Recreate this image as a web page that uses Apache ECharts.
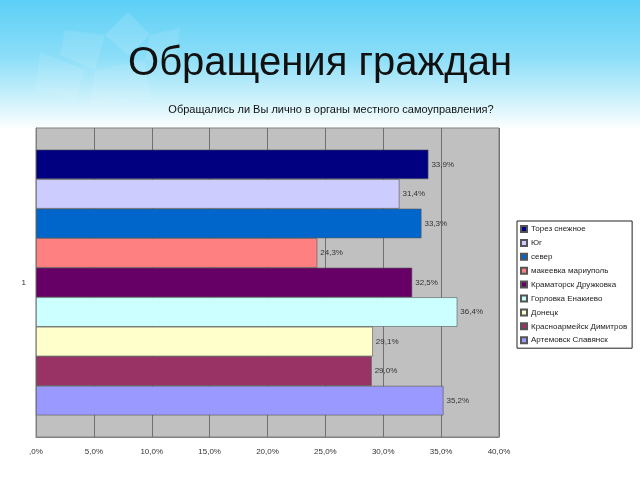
<!DOCTYPE html>
<html>
<head>
<meta charset="utf-8">
<script src="https://cdn.jsdelivr.net/npm/echarts@6/dist/echarts.min.js"></script>
<style>html,body{margin:0;padding:0;}#c{width:640px;height:480px;}</style>
</head>
<body>
<div id="c"></div>
<script>
var categories = ['1'];
var seriesNames = ['Торез снежное', 'Юг', 'север', 'макеевка мариуполь', 'Краматорск Дружковка', 'Горловка Енакиево', 'Донецк', 'Красноармейск Димитров', 'Артемовск Славянск'];
var seriesValues = [33.9, 31.4, 33.3, 24.3, 32.5, 36.4, 29.1, 29.0, 35.2];
var seriesColors = ['#000080', '#ccccff', '#0066cc', '#ff8080', '#660066', '#ccffff', '#ffffcc', '#993366', '#9999ff'];
var xTicks = [0, 5, 10, 15, 20, 25, 30, 35, 40];

function fmt(v) { return v === 0 ? ',0%' : v.toFixed(1).replace('.', ',') + '%'; }

var chart = echarts.init(document.getElementById('c'), null, {renderer: 'canvas'});
var series = seriesNames.map(function (n, i) {
  return {
    name: n, type: 'bar', data: [seriesValues[i]],
    barGap: '0%', barCategoryGap: '14%',
    itemStyle: {color: seriesColors[i], borderColor: '#555', borderWidth: 0.6},
    label: {show: true, position: 'right', distance: 3, fontSize: 8, color: '#333',
      fontFamily: 'Liberation Sans', formatter: function (p) { return fmt(p.value); }},
    emphasis: {disabled: true}
  };
});

var star = [];
star.push({type: 'polygon', z: -9, shape: {points: [[105,35],[128,12],[150,35],[128,55]]}, style: {fill: 'rgba(255,255,255,0.12)'}});
star.push({type: 'polygon', z: -9, shape: {points: [[65,30],[105,35],[95,70],[60,55]]}, style: {fill: 'rgba(255,255,255,0.10)'}});
star.push({type: 'polygon', z: -9, shape: {points: [[150,35],[180,28],[175,62],[145,60]]}, style: {fill: 'rgba(255,255,255,0.10)'}});
star.push({type: 'polygon', z: -9, shape: {points: [[40,52],[85,70],[75,100],[35,90]]}, style: {fill: 'rgba(255,255,255,0.09)'}});
star.push({type: 'polygon', z: -9, shape: {points: [[95,70],[145,60],[150,100],[90,105]]}, style: {fill: 'rgba(255,255,255,0.09)'}});

chart.setOption({
  animation: false,
  graphic: [{
    type: 'rect', z: -10, shape: {x: 0, y: 0, width: 640, height: 480},
    style: {fill: new echarts.graphic.LinearGradient(0, 0, 0, 1, [
      {offset: 0, color: '#5ccff6'},
      {offset: 0.12, color: '#8cdef8'},
      {offset: 0.2, color: '#c8f0fb'},
      {offset: 0.27, color: '#ffffff'},
      {offset: 1, color: '#ffffff'}
    ])}
  }].concat(star),
  title: [{
    text: 'Обращения граждан', left: 'center', top: 39,
    textStyle: {fontSize: 40, fontWeight: 'normal', color: '#111', fontFamily: 'Liberation Sans'}
  }, {
    text: 'Обращались ли Вы лично в органы местного самоуправления?', left: 326, textAlign: 'center', top: 99,
    textStyle: {fontSize: 11, fontWeight: 'normal', color: '#111', fontFamily: 'Liberation Sans'}
  }],
  legend: {
    orient: 'vertical', left: 517, top: 221,
    backgroundColor: '#fff', borderColor: '#222', borderWidth: 1,
    padding: [3, 5, 3, 3], itemGap: 3.9, itemWidth: 6, itemHeight: 6, icon: 'rect',
    textStyle: {fontSize: 8, color: '#222', fontFamily: 'Liberation Sans', lineHeight: 10, padding: [0, 0, 0, -1]},
    data: seriesNames, selectedMode: false
  },
  grid: {left: 36, right: 141, top: 128, bottom: 43, show: true, backgroundColor: '#c0c0c0', borderColor: '#808080', borderWidth: 1},
  xAxis: {
    type: 'value', min: 0, max: 40, interval: 5,
    axisLine: {show: true, lineStyle: {color: '#808080'}},
    axisTick: {show: false},
    splitLine: {show: true, lineStyle: {color: '#707070', width: 1}},
    axisLabel: {fontSize: 8, color: '#333', margin: 11, fontFamily: 'Liberation Sans',
      formatter: function (v) { return xTicks.indexOf(v) >= 0 ? fmt(v) : ''; }}
  },
  yAxis: {
    type: 'category', data: categories, inverse: true,
    axisLine: {show: true, lineStyle: {color: '#808080'}},
    axisTick: {show: false},
    axisLabel: {fontSize: 8, color: '#333', margin: 10, fontFamily: 'Liberation Sans'}
  },
  series: series
});
</script>
</body>
</html>
